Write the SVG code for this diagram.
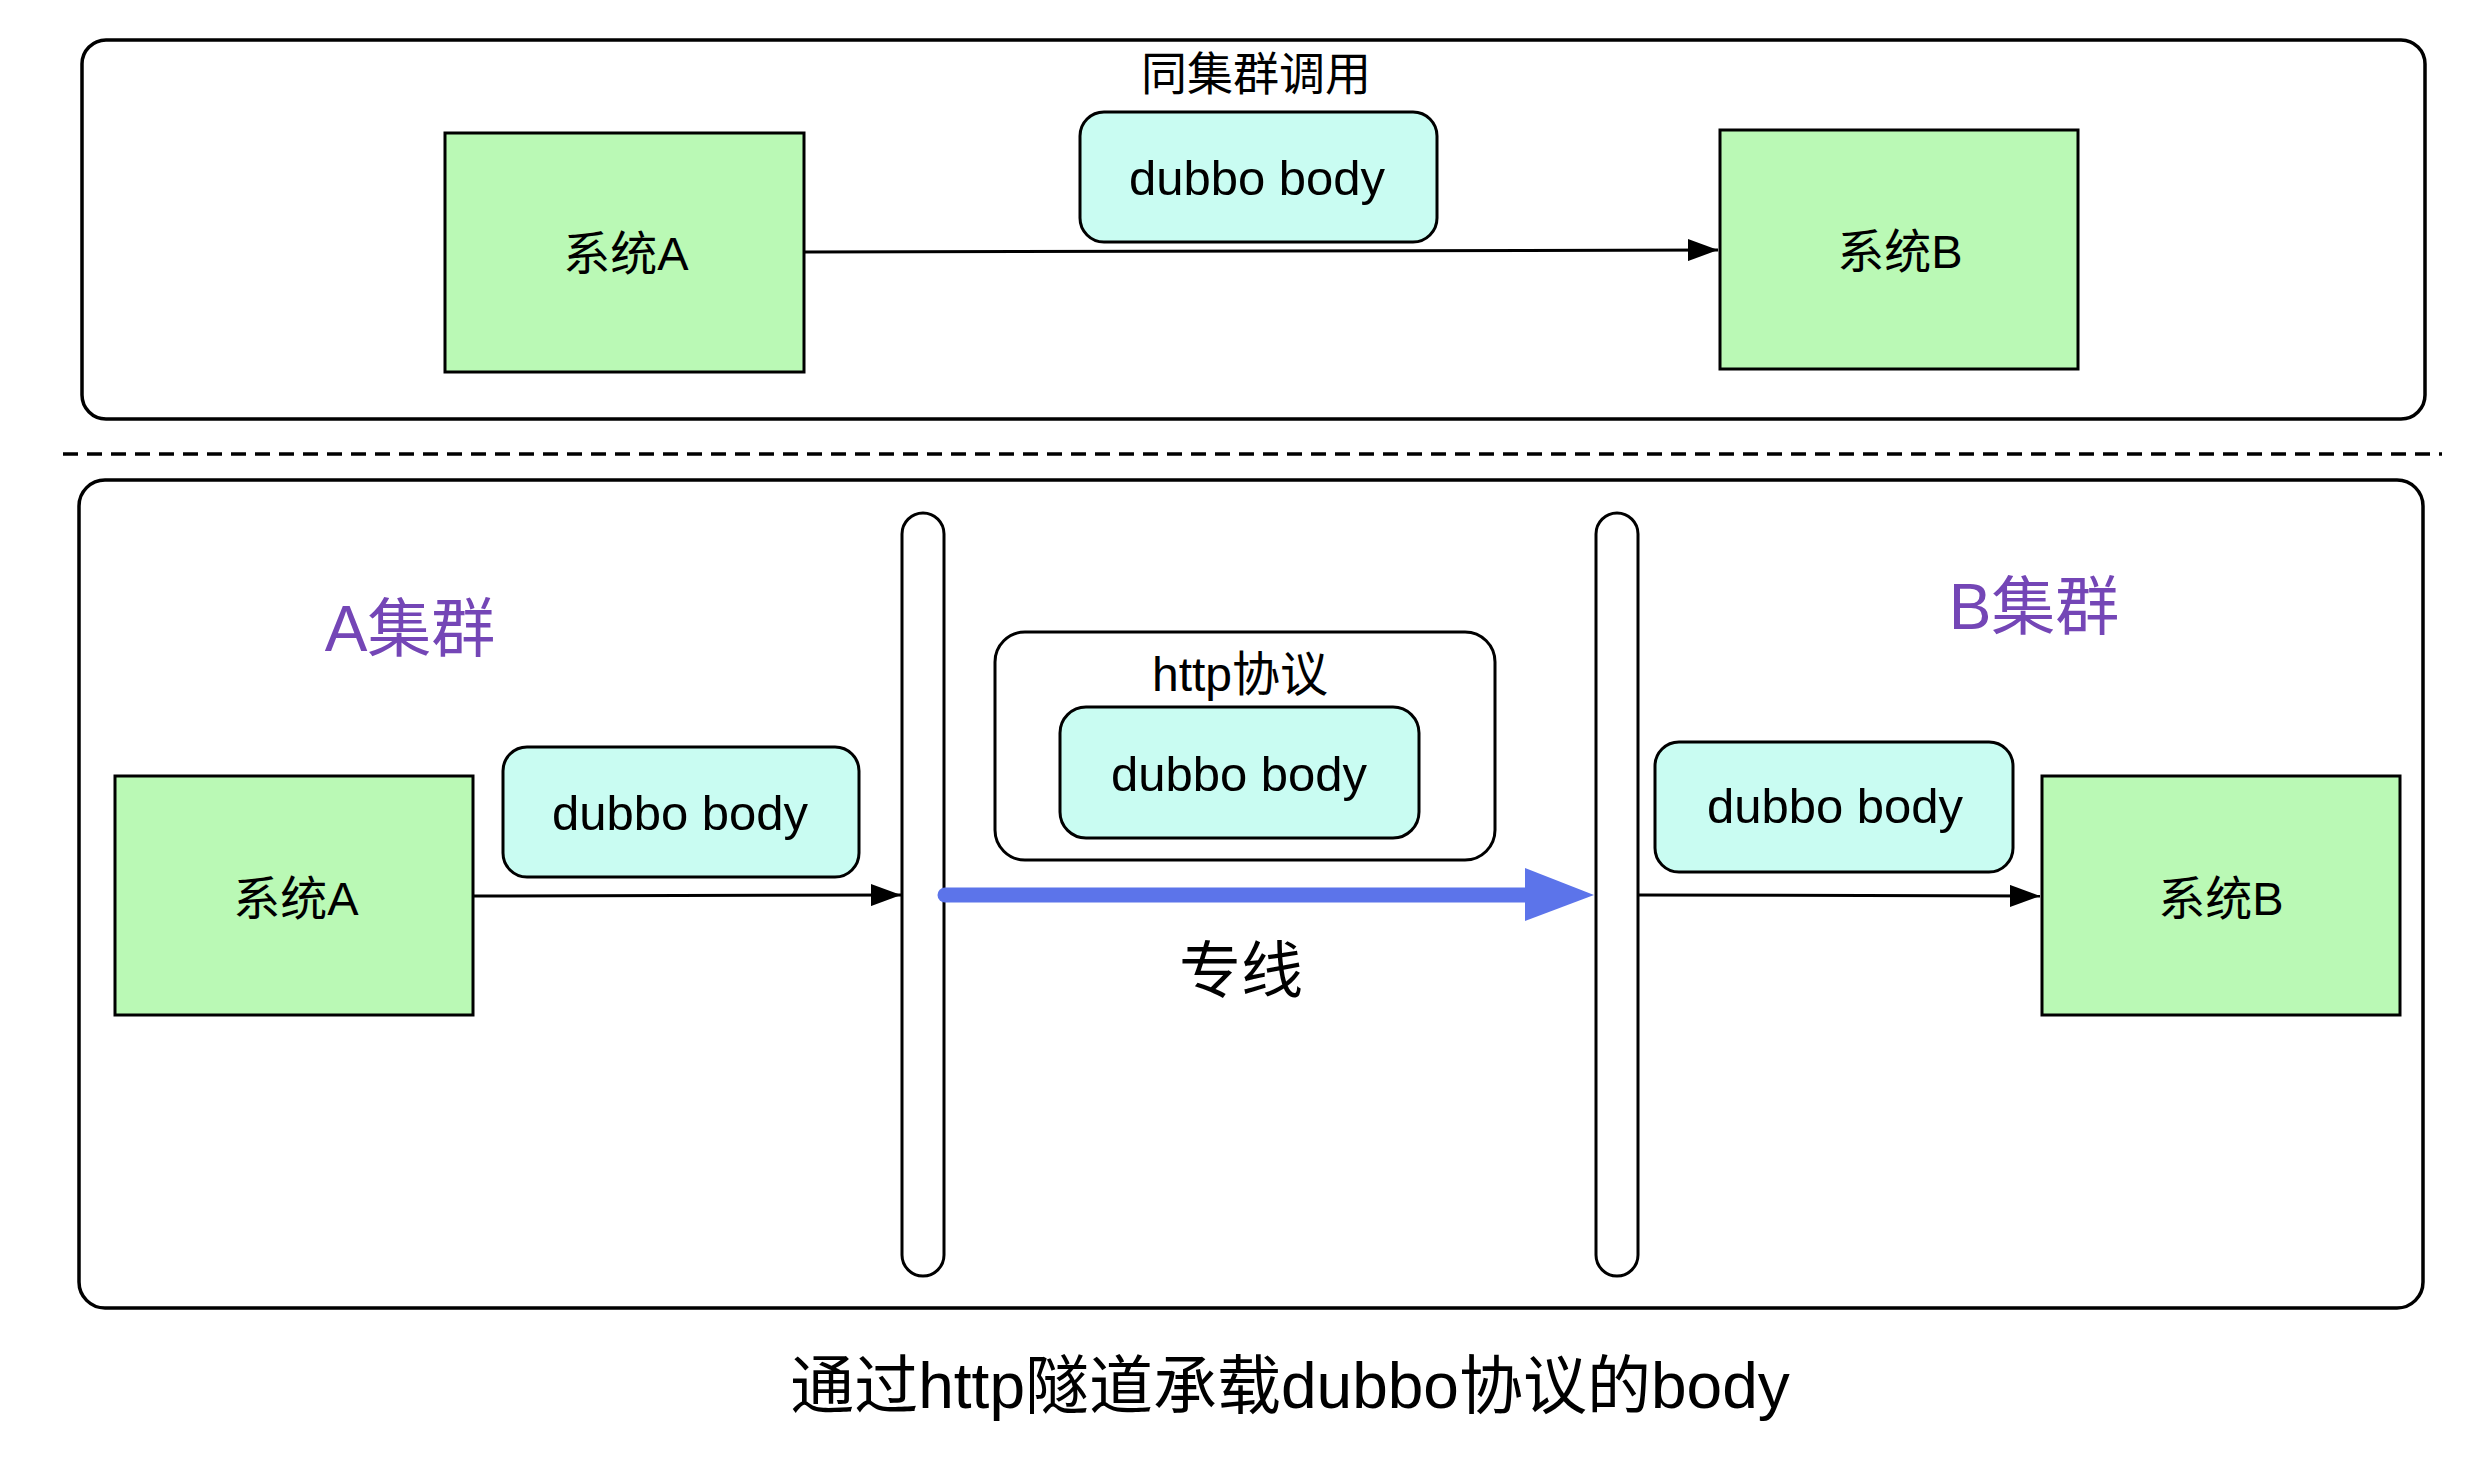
<svg xmlns="http://www.w3.org/2000/svg" width="2482" height="1462" viewBox="0 0 2482 1462">
<defs>
<style>
.frame{fill:#ffffff;stroke:#000;stroke-width:3.5}
.sys{fill:#baf9b5;stroke:#000;stroke-width:3}
.body{fill:#c9fcf2;stroke:#000;stroke-width:3}
.pipe{fill:#ffffff;stroke:#000;stroke-width:3}
.t{font-family:"Liberation Sans","Noto Sans CJK SC",sans-serif;fill:#000;text-anchor:middle}
.p{fill:#7446b6}
.conn{stroke:#000;stroke-width:3;fill:none}
</style>
<marker id="ah" markerUnits="userSpaceOnUse" markerWidth="30" markerHeight="22" refX="30" refY="11" orient="auto">
<path d="M0,0 L30,11 L0,22 z" fill="#000"/>
</marker>
</defs>
<rect width="2482" height="1462" fill="#ffffff"/>

<g id="top-frame">
<rect class="frame" x="82" y="40" width="2343" height="379" rx="24" ry="24"/>
<text class="t" x="1256" y="90" font-size="46">同集群调用</text>
</g>
<g id="top-systemA">
<rect class="sys" x="445" y="133" width="359" height="239"/>
<text class="t" x="626" y="270" font-size="47">系统A</text>
</g>
<g id="top-body">
<rect class="body" x="1080" y="112" width="357" height="130" rx="24" ry="24"/>
<text class="t" x="1257" y="195" font-size="49">dubbo body</text>
</g>
<g id="top-systemB">
<rect class="sys" x="1720" y="130" width="358" height="239"/>
<text class="t" x="1900" y="268" font-size="47">系统B</text>
</g>

<line x1="63" y1="454" x2="2442" y2="454" stroke="#000" stroke-width="3.5" stroke-dasharray="15,9"/>

<g id="bottom-frame">
<rect class="frame" x="79" y="480" width="2344" height="828" rx="26" ry="26"/>
</g>
<g id="label-A-cluster">
<text class="t p" x="410" y="651" font-size="64">A集群</text>
</g>
<g id="label-B-cluster">
<text class="t p" x="2034" y="629" font-size="64">B集群</text>
</g>
<g id="pipe-left">
<rect class="pipe" x="902" y="513" width="42" height="763" rx="21" ry="21"/>
</g>
<g id="pipe-right">
<rect class="pipe" x="1596" y="513" width="42" height="763" rx="21" ry="21"/>
</g>
<g id="bottom-systemA">
<rect class="sys" x="115" y="776" width="358" height="239"/>
<text class="t" x="296" y="915" font-size="47">系统A</text>
</g>
<g id="bottom-body-left">
<rect class="body" x="503" y="747" width="356" height="130" rx="24" ry="24"/>
<text class="t" x="680" y="830" font-size="49">dubbo body</text>
</g>
<g id="http-box">
<rect class="pipe" x="995" y="632" width="500" height="228" rx="30" ry="30"/>
<text class="t" x="1240" y="691" font-size="48">http协议</text>
</g>
<g id="http-body">
<rect class="body" x="1060" y="707" width="359" height="131" rx="26" ry="26"/>
<text class="t" x="1239" y="791" font-size="49">dubbo body</text>
</g>
<g id="label-line">
<text class="t" x="1241" y="993" font-size="62">专线</text>
</g>
<g id="bottom-body-right">
<rect class="body" x="1655" y="742" width="358" height="130" rx="24" ry="24"/>
<text class="t" x="1835" y="823" font-size="49">dubbo body</text>
</g>
<g id="bottom-systemB">
<rect class="sys" x="2042" y="776" width="358" height="239"/>
<text class="t" x="2221" y="915" font-size="47">系统B</text>
</g>

<g id="connectors">
<line class="conn" x1="804" y1="252" x2="1718" y2="250" marker-end="url(#ah)"/>
<line class="conn" x1="473" y1="896" x2="901" y2="895" marker-end="url(#ah)"/>
<line class="conn" x1="1638" y1="895" x2="2040" y2="896" marker-end="url(#ah)"/>
<line x1="945" y1="895" x2="1530" y2="895" stroke="#5c74ea" stroke-width="15" stroke-linecap="round"/>
<polygon points="1525,868 1594,895 1525,921" fill="#5c74ea"/>
</g>

<g id="caption">
<text class="t" x="1290" y="1408" font-size="64">通过http隧道承载dubbo协议的body</text>
</g>
</svg>
